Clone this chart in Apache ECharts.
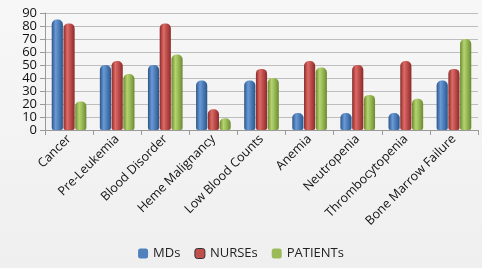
<!DOCTYPE html>
<html><head><meta charset="utf-8">
<script src="https://cdn.jsdelivr.net/npm/echarts@6/dist/echarts.min.js"></script>
<style>html,body{margin:0;padding:0;background:#f3f3f3}#c{width:482px;height:268px}</style>
</head><body><div id="c"></div>
<script>
var categories = ['Cancer','Pre-Leukemia','Blood Disorder','Heme Malignancy','Low Blood Counts','Anemia','Neutropenia','Thrombocytopenia','Bone Marrow Failure'];
var mds = [85, 50, 50, 38, 38, 13, 13, 13, 38];
var nurses = [82, 53, 82, 16, 47, 53, 50, 53, 47];
var patients = [22, 43, 58, 9, 40, 48, 27, 24, 70];
var yTicks = [0,10,20,30,40,50,60,70,80,90];

function grad(light, mid, dark){
  return new echarts.graphic.LinearGradient(0,0,1,0,[
    {offset:0,color:dark},{offset:0.35,color:light},{offset:0.6,color:mid},{offset:1,color:dark}]);
}
var chart = echarts.init(document.getElementById('c'));
var font = 'Open Sans';
chart.setOption({
  backgroundColor: new echarts.graphic.LinearGradient(0,0,0,1,[{offset:0,color:'#f7f7f7'},{offset:1,color:'#efefef'}]),
  animation:false,
  grid:{left:45,right:4,top:13,bottom:138},
  legend:{bottom:3,left:'center',itemWidth:10,itemHeight:10,itemGap:14,
    textStyle:{fontFamily:font,fontSize:13,color:'#222'},
    data:[{name:'MDs',itemStyle:{color:'#4f81bd'}},{name:'NURSEs',itemStyle:{color:'#c0504d',borderColor:'#333',borderWidth:1}},{name:'PATIENTs',itemStyle:{color:'#9bbb59'}}]},
  xAxis:{type:'category',data:categories,
    axisLine:{lineStyle:{color:'#999'}},axisTick:{show:true,lineStyle:{color:'#999'}},
    axisLabel:{rotate:45,interval:0,fontFamily:font,fontSize:12.5,color:'#111',margin:7}},
  yAxis:{type:'value',min:0,max:90,interval:10,
    axisLine:{show:true,lineStyle:{color:'#999'}},axisTick:{show:true,lineStyle:{color:'#999'}},
    axisLabel:{fontFamily:font,fontSize:13,color:'#111',margin:8,
      formatter:function(v){return yTicks.indexOf(v)>=0?String(v):'';}},
    splitLine:{lineStyle:{color:'#bdbdbd'}}},
  series:[
    {name:'MDs',type:'bar',data:mds,barGap:'5%',barCategoryGap:'28%',
     itemStyle:{color:grad('#6a9ad6','#4f81bd','#2c5589'),borderRadius:[5,5,2,2]}},
    {name:'NURSEs',type:'bar',data:nurses,
     itemStyle:{color:grad('#dd6b68','#c0504d','#8a2b29'),borderRadius:[5,5,2,2]}},
    {name:'PATIENTs',type:'bar',data:patients,
     itemStyle:{color:grad('#b5d46f','#9bbb59','#6b8a32'),borderRadius:[5,5,2,2]}}
  ]
});
</script></body></html>
